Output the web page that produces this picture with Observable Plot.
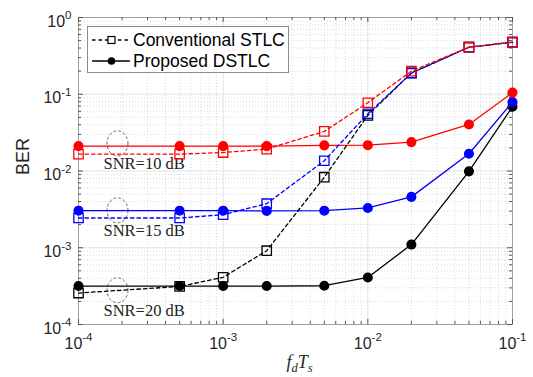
<!DOCTYPE html>
<html><head><meta charset="utf-8">
<script src="https://cdn.jsdelivr.net/npm/d3@7"></script>
<script src="https://cdn.jsdelivr.net/npm/@observablehq/plot@0.6"></script>
<style>body{margin:0;background:#fff} svg{display:block}</style>
</head><body><div id="chart"></div>
<script>
// ---- data ----
const fdTs = [1e-4, 5e-4, 1e-3, 2e-3, 5e-3, 1e-2, 2e-2, 5e-2, 1e-1];
const conv10 = [0.0166, 0.0166, 0.0174, 0.0193, 0.0328, 0.0775, 0.200, 0.410, 0.477];
const conv15 = [0.00244, 0.00244, 0.0027, 0.00375, 0.0136, 0.0557, 0.188, 0.410, 0.477];
const conv20 = [0.000257, 0.000313, 0.000412, 0.000915, 0.0083, 0.053, 0.190, 0.410, 0.477];
const prop10 = [0.0211, 0.0211, 0.0211, 0.0211, 0.0216, 0.0217, 0.0238, 0.0404, 0.105];
const prop15 = [0.00304, 0.00304, 0.00304, 0.00302, 0.00304, 0.0033, 0.0046, 0.0168, 0.079];
const prop20 = [0.000317, 0.000317, 0.000317, 0.000317, 0.00032, 0.00041, 0.0011, 0.0099, 0.069];
const snrColors = ["#ff0000", "#0000ff", "#000000"];
const snrLabels = ["SNR=10 dB", "SNR=15 dB", "SNR=20 dB"];
const snrMarkX = [1.86e-4, 1.86e-4, 1.86e-4];
const snrMarkY = [0.0229, 0.00307, 0.000279];
const legendLabels = ["Conventional STLC", "Proposed DSTLC"];
const xTicks = [1e-4, 1e-3, 1e-2, 1e-1];
const yTicks = [1e-4, 1e-3, 1e-2, 1e-1, 1];
const xLabel = "f_{d}T_{s}";
const yLabel = "BER";

// ---- layout ----
const W = 533, H = 377, mL = 78, mR = 21, mT = 17, mB = 53;
const innerH = H - mT - mB, innerW = W - mL - mR;
const sans = "'Liberation Sans', Arial, Helvetica, sans-serif";
const serif = "'Liberation Serif', 'DejaVu Serif', 'Times New Roman', serif";

const minor = (k0, k1) => d3.range(k0, k1 + 1).flatMap(k => d3.range(2, 10).map(m => m * 10 ** k));
const xMinor = minor(-4, -2);
const yMinor = minor(-4, -1);

const convSeries = [conv10, conv15, conv20];
const propSeries = [prop10, prop15, prop20];
const toRows = vals => fdTs.map((x, i) => ({x, y: vals[i]}));
const snrRows = snrLabels.map((t, i) => ({t, x: snrMarkX[i], y: snrMarkY[i]}));

const ellipse = {
  draw(ctx, size) {
    const r = Math.sqrt(size / Math.PI), rx = r * 0.84, ry = r;
    ctx.moveTo(rx, 0);
    for (let i = 1; i <= 64; i++) {
      const t = (i / 64) * 2 * Math.PI;
      ctx.lineTo(rx * Math.cos(t), ry * Math.sin(t));
    }
    ctx.closePath();
  }
};
const expLabel = d => `10^{${Math.round(Math.log10(d))}}`;

const marks = [
  Plot.ruleX(xMinor, {stroke: "#d0d0d0", strokeDasharray: "1,2", strokeWidth: 0.8}),
  Plot.ruleY(yMinor, {stroke: "#d0d0d0", strokeDasharray: "1,2", strokeWidth: 0.8}),
  Plot.ruleX(xTicks, {stroke: "#e2e2e2"}),
  Plot.ruleY(yTicks, {stroke: "#e2e2e2"}),
  Plot.frame({stroke: "#a0a0a0"}),
  Plot.tickX(xTicks, {x: d => d, insetTop: innerH - 5, stroke: "#555"}),
  Plot.tickX(xTicks, {x: d => d, insetBottom: innerH - 5, stroke: "#555"}),
  Plot.tickX(xMinor, {x: d => d, insetTop: innerH - 3, stroke: "#555"}),
  Plot.tickX(xMinor, {x: d => d, insetBottom: innerH - 3, stroke: "#555"}),
  Plot.tickY(yTicks, {y: d => d, insetRight: innerW - 5, stroke: "#555"}),
  Plot.tickY(yTicks, {y: d => d, insetLeft: innerW - 5, stroke: "#555"}),
  Plot.tickY(yMinor, {y: d => d, insetRight: innerW - 3, stroke: "#555"}),
  Plot.tickY(yMinor, {y: d => d, insetLeft: innerW - 3, stroke: "#555"}),
  Plot.text(xTicks, {x: d => d, frameAnchor: "bottom", dy: 24, text: expLabel, fontSize: 16, fill: "#262626", fontFamily: sans}),
  Plot.text(yTicks, {y: d => d, frameAnchor: "left", textAnchor: "end", dx: -7, dy: 4, text: expLabel, fontSize: 16, fill: "#262626", fontFamily: sans}),
  Plot.text([xLabel], {frameAnchor: "bottom", dx: 4, dy: 43, text: d => d, fontSize: 18, fontStyle: "italic", fontFamily: serif, fill: "#262626"}),
  Plot.text([yLabel], {frameAnchor: "left", rotate: -90, dx: -55, dy: 4, text: d => d, fontSize: 18, fill: "#262626", fontFamily: sans, letterSpacing: "1px"}),
  Plot.dot(snrRows, {x: "x", y: "y", symbol: ellipse, r: 12.5, stroke: "#555", strokeWidth: 0.9, strokeDasharray: "3,2", fill: "none"}),
  Plot.text(snrRows, {x: "x", y: "y", text: "t", textAnchor: "start", dx: -14, dy: 20, fontSize: 16.5, fontFamily: serif, fill: "#222"})
];
[2, 1, 0].forEach(i => {
  const c = snrColors[i];
  marks.push(Plot.line(toRows(propSeries[i]), {x: "x", y: "y", stroke: c, strokeWidth: 1.3}));
  marks.push(Plot.dot(toRows(propSeries[i]), {x: "x", y: "y", r: 4.3, fill: c, stroke: c}));
});
[2, 1, 0].forEach(i => {
  const c = snrColors[i];
  marks.push(Plot.line(toRows(convSeries[i]), {x: "x", y: "y", stroke: c, strokeWidth: 1.3, strokeDasharray: "3.5,3"}));
  marks.push(Plot.dot(toRows(convSeries[i]), {x: "x", y: "y", symbol: "square", r: 5.3, fill: "none", stroke: c, strokeWidth: 1.3}));
});

const plot = Plot.plot({
  width: W, height: H, marginLeft: mL, marginRight: mR, marginTop: mT, marginBottom: mB,
  x: {type: "log", domain: [1e-4, 1e-1], axis: null},
  y: {type: "log", domain: [1e-4, 1], axis: null},
  style: {background: "#fff", fontFamily: sans},
  marks
});

// turn ^{..} and _{..} into tspans
function texify(el) {
  const s = el.textContent;
  if (!/[\^_]\{/.test(s)) return;
  const fs = parseFloat(getComputedStyle(el).fontSize) || 16;
  const parts = [];
  const re = /([\^_])\{([^}]*)\}|([^\^_]+)/g;
  let m;
  while ((m = re.exec(s))) parts.push(m[3] != null ? {t: m[3], mode: 0} : {t: m[2], mode: m[1] === "^" ? -1 : 1});
  while (el.firstChild) el.removeChild(el.firstChild);
  let shift = 0;
  for (const p of parts) {
    const ts = document.createElementNS("http://www.w3.org/2000/svg", "tspan");
    const target = p.mode === -1 ? -0.45 * fs : p.mode === 1 ? 0.25 * fs : 0;
    ts.setAttribute("dy", target - shift);
    shift = target;
    if (p.mode !== 0) ts.setAttribute("font-size", (p.mode === -1 ? 0.72 : 0.7) * fs);
    ts.textContent = p.t;
    el.appendChild(ts);
  }
}
document.getElementById("chart").appendChild(plot);
plot.querySelectorAll("text").forEach(texify);

// legend
const svg = d3.select(plot);
const lg = svg.append("g").attr("text-anchor", "start");
const bx = mL + 9, by = mT + 9, bw = 201, bh = 46;
lg.append("rect").attr("x", bx + 0.5).attr("y", by + 0.5).attr("width", bw).attr("height", bh)
  .attr("fill", "#fff").attr("stroke", "#8c8c8c");
const rowsY = [by + 14, by + 35];
legendLabels.forEach((lab, i) => {
  const yy = rowsY[i];
  lg.append("line").attr("x1", bx + 5).attr("x2", bx + 43).attr("y1", yy).attr("y2", yy)
    .attr("stroke", "#000").attr("stroke-width", 1.3).attr("stroke-dasharray", i === 0 ? "3.5,3" : null);
  if (i === 0) lg.append("rect").attr("x", bx + 21).attr("y", yy - 3.5).attr("width", 7).attr("height", 7)
    .attr("fill", "#fff").attr("stroke", "#000").attr("stroke-width", 1.2);
  else lg.append("circle").attr("cx", bx + 24.5).attr("cy", yy).attr("r", 3.8).attr("fill", "#000");
  lg.append("text").attr("x", bx + 46).attr("y", yy).attr("dy", "0.36em").attr("font-size", 17.5)
    .attr("text-anchor", "start").attr("font-family", sans).attr("fill", "#000").text(lab);
});
</script></body></html>
